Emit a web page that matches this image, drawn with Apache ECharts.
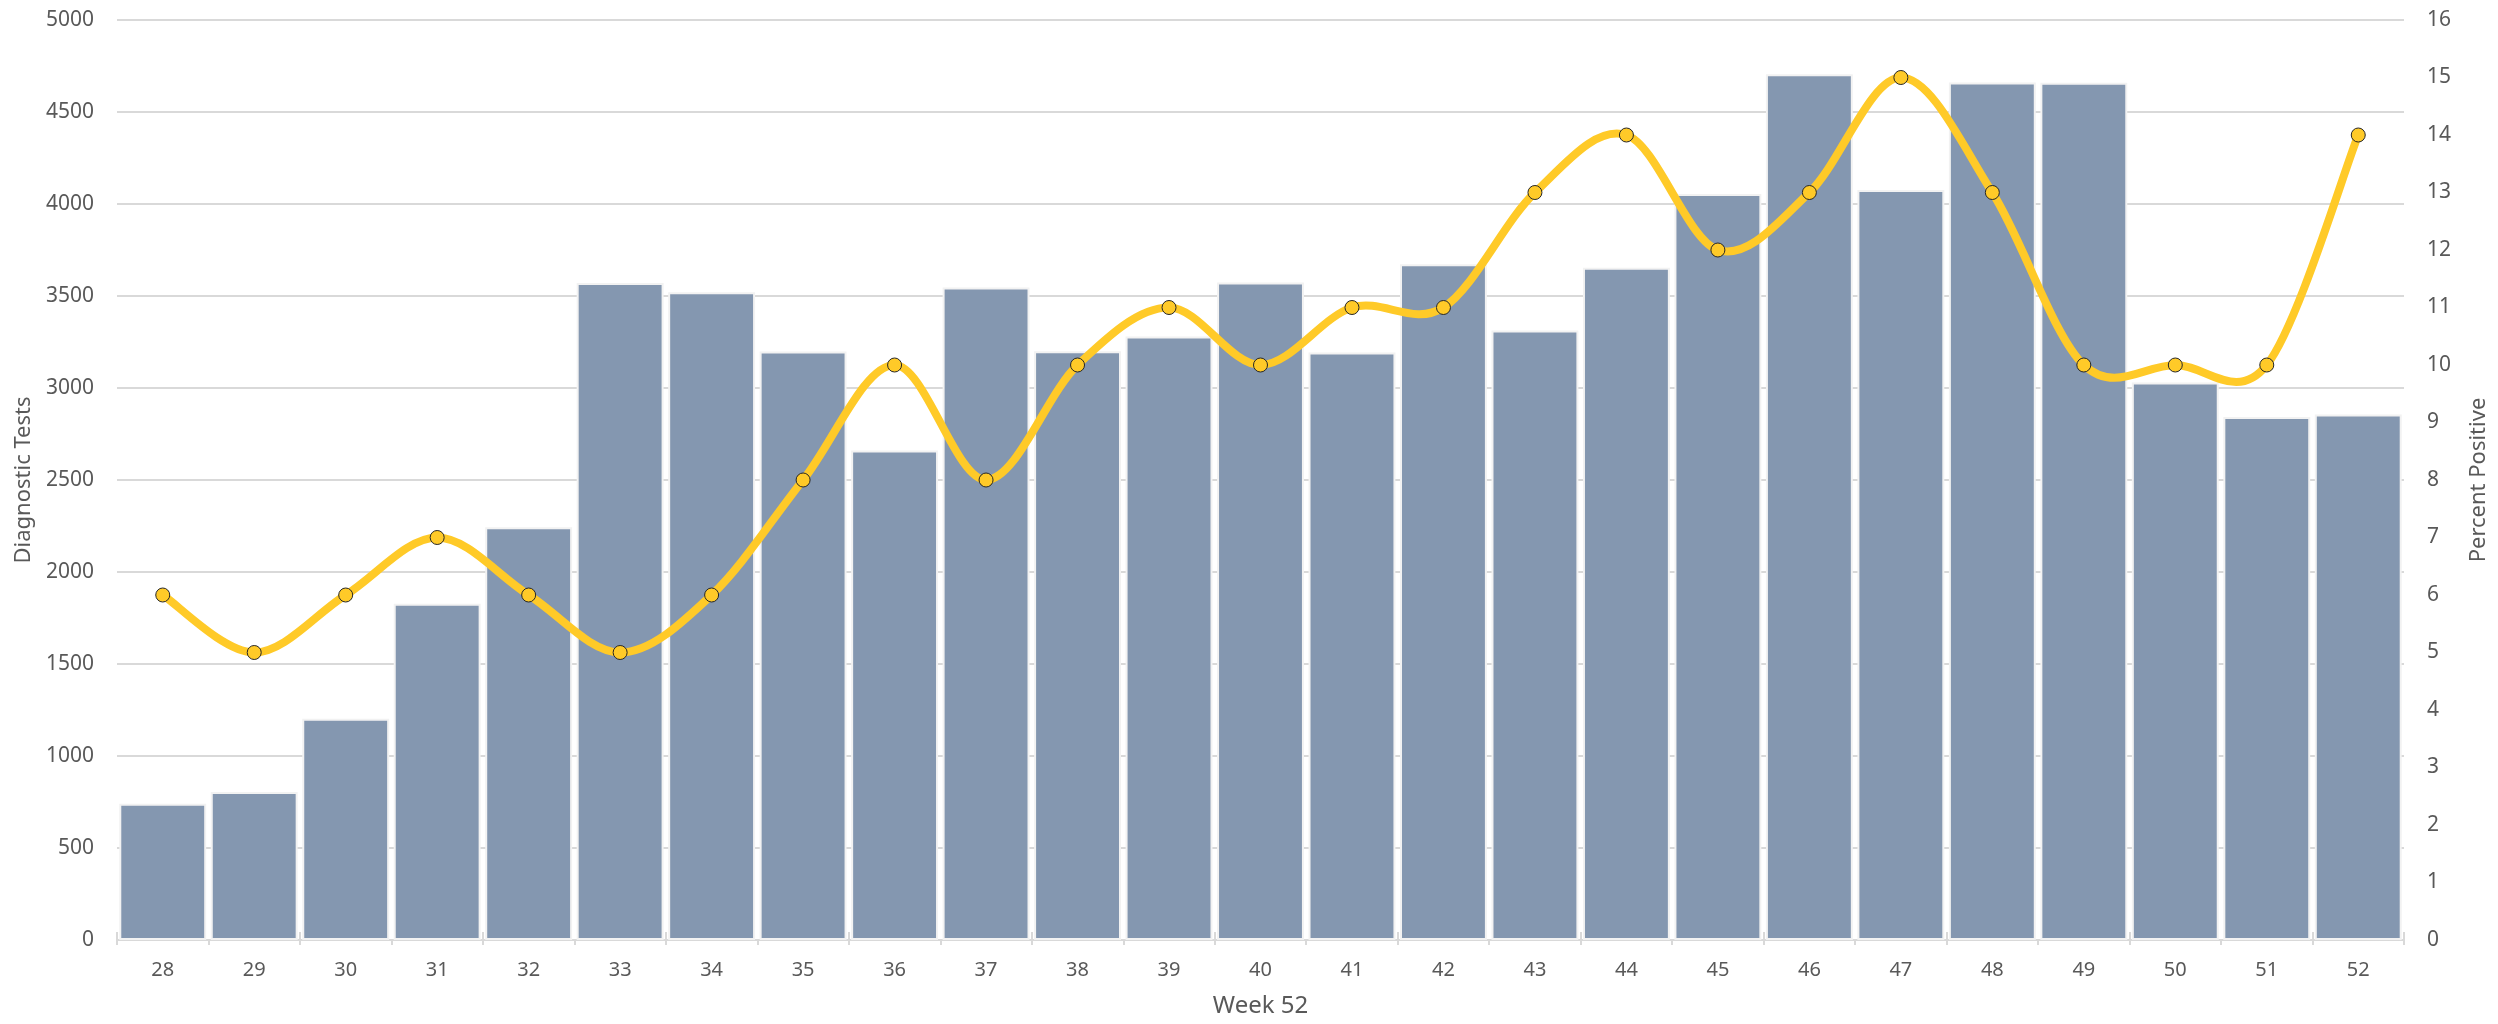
<!DOCTYPE html>
<html>
<head>
<meta charset="utf-8">
<title>Diagnostic Tests</title>
<script src="https://cdn.jsdelivr.net/npm/echarts@6/dist/echarts.min.js"></script>
<style>
  html, body { margin: 0; padding: 0; background: #fff; }
  #chart { width: 2498px; height: 1024px; }
</style>
</head>
<body>
<div id="chart"></div>
<script>
// weeks on the x axis
const weeks = ['28', '29', '30', '31', '32', '33', '34', '35', '36', '37', '38', '39', '40',
  '41', '42', '43', '44', '45', '46', '47', '48', '49', '50', '51', '52']
// diagnostic tests per week (bars, left axis)
const tests = [740, 805, 1202, 1828, 2243, 3570, 3520, 3198, 2660, 3546, 3200, 3280, 3573,
  3193, 3672, 3312, 3654, 4055, 4705, 4076, 4661, 4659, 3030, 2843, 2856]
// percent positive (line, right axis)
const percentPositive = [6, 5, 6, 7, 6, 5, 6, 8, 10, 8, 10, 11, 10,
  11, 11, 13, 14, 12, 13, 15, 13, 10, 10, 10, 14]

const textColor = '#595959'
const gridColor = '#d9d9d9'
const lineColor = '#ffca28'
const fontFamily = '"Noto Sans", "Open Sans", sans-serif'

const linePoints = percentPositive.map((v, i) => [i, v])

// excel style smoothed segment (catmull-rom) between point i and i+1
function renderSegment(params, api) {
  const i = params.dataIndex
  const n = percentPositive.length
  if (i >= n - 1) {
    return null
  }
  const pt = k => {
    const j = Math.max(0, Math.min(n - 1, k))
    return api.coord([j, percentPositive[j]])
  }
  const p0 = pt(i - 1)
  const p1 = pt(i)
  const p2 = pt(i + 1)
  const p3 = pt(i + 2)
  return {
    type: 'bezierCurve',
    shape: {
      x1: p1[0],
      y1: p1[1],
      cpx1: p1[0] + (p2[0] - p0[0]) / 6,
      cpy1: p1[1] + (p2[1] - p0[1]) / 6,
      cpx2: p2[0] - (p3[0] - p1[0]) / 6,
      cpy2: p2[1] - (p3[1] - p1[1]) / 6,
      x2: p2[0],
      y2: p2[1]
    },
    style: {
      stroke: lineColor,
      lineWidth: 8,
      fill: null,
      lineCap: 'round'
    }
  }
}

const chart = echarts.init(document.getElementById('chart'))

chart.setOption({
  animation: false,
  textStyle: { fontFamily: fontFamily },
  grid: {
    left: 117,
    right: 86,
    top: 20,
    bottom: 84
  },
  xAxis: [{
    type: 'category',
    data: weeks,
    name: 'Week 52',
    nameLocation: 'middle',
    nameGap: 54,
    nameTextStyle: { color: textColor, fontSize: 24, fontFamily: fontFamily },
    axisLine: { lineStyle: { color: gridColor, width: 2 } },
    axisTick: { show: true, length: 5, lineStyle: { color: gridColor, width: 2 } },
    axisLabel: { color: textColor, fontSize: 20, margin: 20, fontFamily: fontFamily }
  }, {
    // top axis: only the line and every other tick
    type: 'category',
    data: weeks,
    position: 'top',
    axisLine: { show: true, lineStyle: { color: gridColor, width: 2 } },
    axisTick: { show: true, interval: 1, length: 8, lineStyle: { color: gridColor, width: 2 } },
    axisLabel: { show: false }
  }],
  yAxis: [{
    type: 'value',
    min: 0,
    max: 5000,
    interval: 500,
    name: 'Diagnostic Tests',
    nameLocation: 'middle',
    nameRotate: 90,
    nameGap: 82,
    nameTextStyle: { color: textColor, fontSize: 22, fontFamily: fontFamily },
    axisLine: { show: false },
    axisTick: { show: false },
    axisLabel: {
      color: textColor,
      fontSize: 21,
      margin: 23,
      fontFamily: fontFamily,
      formatter: value => String(value)
    },
    splitLine: { lineStyle: { color: gridColor, width: 2 } }
  }, {
    type: 'value',
    min: 0,
    max: 16,
    interval: 1,
    name: 'Percent Positive',
    nameLocation: 'middle',
    nameRotate: 90,
    nameGap: 64,
    nameTextStyle: { color: textColor, fontSize: 22, fontFamily: fontFamily },
    axisLine: { show: false },
    axisTick: { show: false },
    axisLabel: { color: textColor, fontSize: 21, margin: 23, fontFamily: fontFamily },
    splitLine: { show: false }
  }],
  series: [{
    name: 'Diagnostic Tests',
    type: 'bar',
    xAxisIndex: 0,
    yAxisIndex: 0,
    data: tests,
    barCategoryGap: '5%',
    itemStyle: {
      color: '#8497b0',
      borderColor: '#f2f2f2',
      borderWidth: 2
    }
  }, {
    // smoothed line drawn from the data through the axes
    name: 'Percent Positive',
    type: 'custom',
    xAxisIndex: 0,
    yAxisIndex: 1,
    data: linePoints,
    renderItem: renderSegment,
    encode: { x: 0, y: 1 },
    z: 4
  }, {
    name: 'Percent Positive',
    type: 'scatter',
    xAxisIndex: 0,
    yAxisIndex: 1,
    data: linePoints,
    symbol: 'circle',
    symbolSize: 14,
    itemStyle: { color: lineColor, borderColor: '#262626', borderWidth: 1, opacity: 1 },
    z: 6
  }]
})
</script>
</body>
</html>
